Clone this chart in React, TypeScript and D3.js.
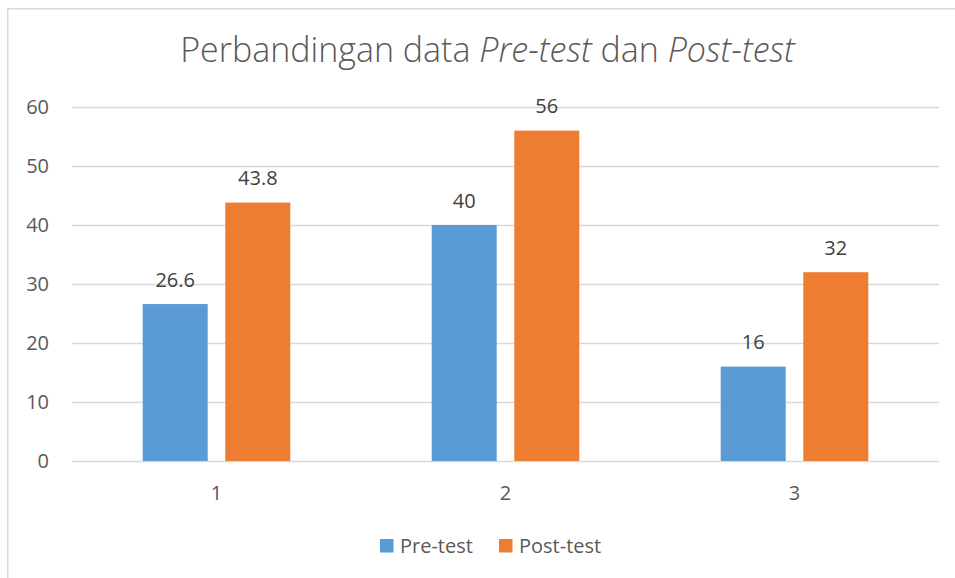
import React, { useEffect, useRef } from 'react';
import * as d3 from 'd3';

// chart data
const categories = ['1', '2', '3'];
const seriesNames = ['Pre-test', 'Post-test'];
const preTest = [26.6, 40, 16];
const postTest = [43.8, 56, 32];
const yTicks = [0, 10, 20, 30, 40, 50, 60];

const colors = ['#5B9BD5', '#ED7D31'];
const FONT = '"Open Sans", Lato, sans-serif';
const LABEL_SIZE = '20px';

const App: React.FC = () => {
  const svgRef = useRef<SVGSVGElement>(null);

  useEffect(() => {
    if (!svgRef.current) return;
    const width = 955;
    const height = 578;
    const svg = d3.select(svgRef.current);
    svg.selectAll('*').remove();
    svg.attr('width', width).attr('height', height);

    svg.append('rect').attr('width', width).attr('height', height).attr('fill', '#fff');

    // chart frame (only top + left visible in the crop)
    svg.append('path')
      .attr('d', `M7.75,${height} V8.75 H${width}`)
      .attr('fill', 'none')
      .attr('stroke', '#d9d9d9')
      .attr('stroke-width', 1.5);

    const plot = { left: 72, right: 939, top: 107, bottom: 461 };

    const y = d3.scaleLinear().domain([0, 60]).range([plot.bottom, plot.top]);
    const x0 = d3.scaleBand<string>().domain(categories).range([plot.left, plot.right]);
    const x1 = d3.scaleBand<string>()
      .domain(seriesNames)
      .range([0, x0.bandwidth()])
      .paddingInner(0.213)
      .paddingOuter(0.856);

    // gridlines
    svg.append('g')
      .selectAll('line')
      .data(yTicks)
      .enter()
      .append('line')
      .attr('x1', plot.left)
      .attr('x2', plot.right)
      .attr('y1', d => Math.round(y(d)) + 0.5)
      .attr('y2', d => Math.round(y(d)) + 0.5)
      .attr('stroke', '#d9d9d9')
      .attr('stroke-width', 1.3);

    // y labels
    svg.append('g')
      .selectAll('text')
      .data(yTicks)
      .enter()
      .append('text')
      .attr('x', 49)
      .attr('y', d => y(d))
      .attr('dy', '0.36em')
      .attr('text-anchor', 'end')
      .style('font-family', FONT)
      .style('font-size', LABEL_SIZE)
      .attr('fill', '#595959')
      .text(d => d);

    const series = [preTest, postTest];

    // bars + value labels
    series.forEach((vals, si) => {
      const g = svg.append('g');
      g.selectAll('rect')
        .data(vals)
        .enter()
        .append('rect')
        .attr('x', (d, i) => x0(categories[i])! + x1(seriesNames[si])!)
        .attr('y', d => y(d))
        .attr('width', x1.bandwidth())
        .attr('height', d => y(0) - y(d))
        .attr('fill', colors[si]);

      g.selectAll('text')
        .data(vals)
        .enter()
        .append('text')
        .attr('x', (d, i) => x0(categories[i])! + x1(seriesNames[si])! + x1.bandwidth() / 2)
        .attr('y', d => y(d) - 17.5)
        .attr('text-anchor', 'middle')
        .style('font-family', FONT)
        .style('font-size', LABEL_SIZE)
        .attr('fill', '#404040')
        .text(d => d);
    });

    // x labels
    svg.append('g')
      .selectAll('text')
      .data(categories)
      .enter()
      .append('text')
      .attr('x', d => x0(d)! + x0.bandwidth() / 2)
      .attr('y', 500)
      .attr('text-anchor', 'middle')
      .style('font-family', FONT)
      .style('font-size', LABEL_SIZE)
      .attr('fill', '#595959')
      .text(d => d);

    // title
    const title = svg.append('text')
      .attr('x', 487.5)
      .attr('y', 62)
      .attr('text-anchor', 'middle')
      .style('font-family', FONT)
      .style('font-size', '34px')
      .style('font-weight', 300)
      .attr('fill', '#595959');
    title.append('tspan').text('Perbandingan data ');
    title.append('tspan').style('font-style', 'italic').text('Pre-test');
    title.append('tspan').text(' dan ');
    title.append('tspan').style('font-style', 'italic').text('Post-test');

    // legend
    const legendX = [380, 499];
    const legend = svg.append('g');
    seriesNames.forEach((name, i) => {
      legend.append('rect')
        .attr('x', legendX[i])
        .attr('y', 539)
        .attr('width', 13.5)
        .attr('height', 13.5)
        .attr('fill', colors[i]);
      legend.append('text')
        .attr('x', legendX[i] + 20)
        .attr('y', 553)
        .style('font-family', FONT)
        .style('font-size', LABEL_SIZE)
        .attr('fill', '#595959')
        .text(name);
    });
  }, []);

  return (
    <div style={{ position: 'absolute', left: 0, top: 0 }}>
      <svg ref={svgRef} style={{ display: 'block' }} />
    </div>
  );
};

export default App;
